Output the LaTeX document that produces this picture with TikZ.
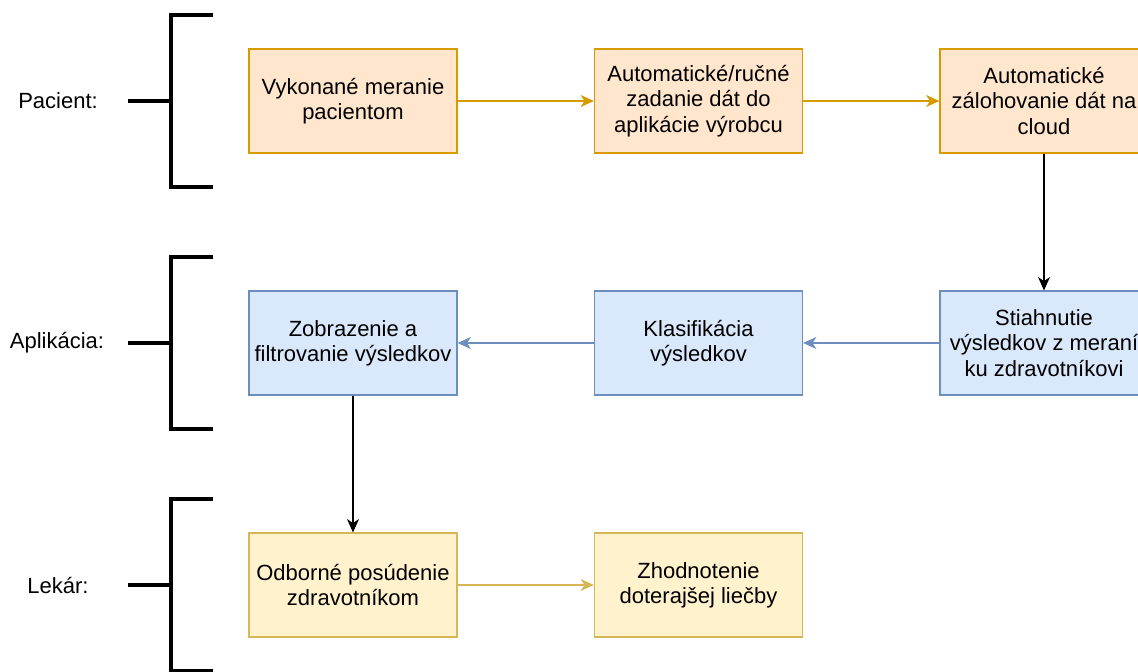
\documentclass[tikz,border=0pt]{standalone}
\usepackage{fontspec}
\setmainfont{Liberation Sans}
\usepackage{xcolor}
\usetikzlibrary{arrows.meta,positioning}

\definecolor{pacfill}{HTML}{FFE6CC}
\definecolor{pacdraw}{HTML}{D79B00}
\definecolor{appfill}{HTML}{DAE8FC}
\definecolor{appdraw}{HTML}{6C8EBF}
\definecolor{lekfill}{HTML}{FFF2CC}
\definecolor{lekdraw}{HTML}{D6B656}

\tikzset{
  stepbox/.style={draw, line width=0.9pt, minimum width=156pt, minimum height=78pt,
    align=center, inner sep=0pt, font=\fontsize{16.5}{19}\selectfont},
  pacbox/.style={stepbox, fill=pacfill, draw=pacdraw},
  appbox/.style={stepbox, fill=appfill, draw=appdraw},
  lekbox/.style={stepbox, fill=lekfill, draw=lekdraw},
  flow/.style={-{Stealth[length=10pt,width=9pt,inset=3pt]}, line width=0.9pt},
  role/.style={font=\fontsize{16.5}{19}\selectfont},
  bracket/.style={line width=2.3pt}
}

\begin{document}
\begin{tikzpicture}[x=0.75pt, y=-0.75pt]

\useasboundingbox (0,0) rectangle (1138,671);

% Roles
\node[role] (pacient) at (58,101) {Pacient:};
\node[role] (aplikacia) at (57,343) {Aplikácia:};
\node[role] (lekar) at (58,585) {Lekár:};

% Brackets
\foreach \y in {101, 343, 585} {
  \draw[bracket] (128,\y) -- (171,\y);
  \draw[bracket] (213,\y-86) -- (171,\y-86) -- (171,\y+86) -- (213,\y+86);
}

% Pacient row
\node[pacbox] (meranie) at (353,101) {Vykonané meranie\\pacientom};
\node[pacbox] (zadanie) at (698.5,101) {Automatické/ručné\\zadanie dát do\\aplikácie výrobcu};
\node[pacbox] (cloud) at (1044,101) {Automatické\\zálohovanie dát na\\cloud};

% Aplikacia row
\node[appbox] (stiahnutie) at (1044,343) {Stiahnutie\\výsledkov z meraní\\ku zdravotníkovi};
\node[appbox] (klasifikacia) at (698.5,343) {Klasifikácia\\výsledkov};
\node[appbox] (zobrazenie) at (353,343) {Zobrazenie a\\filtrovanie výsledkov};

% Lekar row
\node[lekbox] (posudenie) at (353,585) {Odborné posúdenie\\zdravotníkom};
\node[lekbox] (zhodnotenie) at (698.5,585) {Zhodnotenie\\doterajšej liečby};

% Flow
\draw[flow, pacdraw] (meranie) -- (zadanie);
\draw[flow, pacdraw] (zadanie) -- (cloud);
\draw[flow] (cloud) -- (stiahnutie);
\draw[flow, appdraw] (stiahnutie) -- (klasifikacia);
\draw[flow, appdraw] (klasifikacia) -- (zobrazenie);
\draw[flow] (zobrazenie) -- (posudenie);
\draw[flow, lekdraw] (posudenie) -- (zhodnotenie);

\end{tikzpicture}
\end{document}
